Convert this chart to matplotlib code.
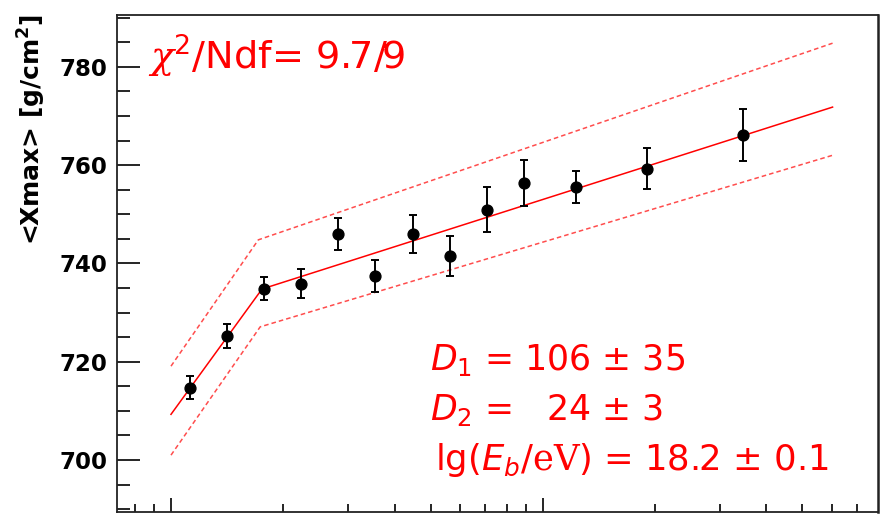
import numpy as np
import matplotlib
matplotlib.use("Agg")
import matplotlib.pyplot as plt
from matplotlib.ticker import MultipleLocator, LogLocator, NullFormatter

# Fonts: wide sans for the labels, serif italic chi through the cal slot
plt.rcParams['font.family'] = 'DejaVu Sans'
plt.rcParams['mathtext.fontset'] = 'custom'
plt.rcParams['mathtext.rm'] = 'DejaVu Sans'
plt.rcParams['mathtext.it'] = 'DejaVu Sans:italic'
plt.rcParams['mathtext.bf'] = 'DejaVu Sans:bold'
plt.rcParams['mathtext.cal'] = 'DejaVu Serif:italic'
plt.rcParams['mathtext.sf'] = 'DejaVu Serif'

# Measured <Xmax> per energy bin (lg(E/eV))
lg_e = [18.05, 18.15, 18.25, 18.35, 18.45, 18.55, 18.65, 18.75, 18.85, 18.95, 19.09, 19.28, 19.54]
xmax = [714.7, 725.2, 734.9, 735.9, 746.0, 737.4, 746.0, 741.5, 750.9, 756.3, 755.6, 759.3, 766.1]
xmax_err = [2.3, 2.4, 2.4, 2.9, 3.2, 3.2, 3.9, 4.0, 4.6, 4.7, 3.3, 4.1, 5.3]

# Broken line fit and its band
fit_lg_e = [18.0, 18.245, 19.78]
fit_mid = [709.3, 734.8, 771.8]
band_lg_e_up = [18.0, 18.235, 19.78]
band_up = [719.1, 744.8, 784.8]
band_lg_e_lo = [18.0, 18.24, 19.78]
band_lo = [701.0, 727.1, 762.0]

energy = 10 ** np.array(lg_e)

fig = plt.figure(figsize=(8.85, 5.19), dpi=100)
ax = fig.add_axes([0.1319, 0.0141, 0.8605, 0.9576])

ax.plot(10 ** np.array(fit_lg_e), fit_mid, color='#ff0000', lw=1.1)
ax.plot(10 ** np.array(band_lg_e_up), band_up, color='#ff2020', lw=1.1,
        dashes=(3, 2), alpha=0.8)
ax.plot(10 ** np.array(band_lg_e_lo), band_lo, color='#ff2020', lw=1.1,
        dashes=(3, 2), alpha=0.8)

ax.errorbar(energy, xmax, yerr=xmax_err, fmt='o', color='black', ms=7.8,
            elinewidth=1.4, capsize=3, capthick=1.4, zorder=5)

ax.set_xscale('log')
ax.set_xlim(10 ** 17.854, 10 ** 19.903)
ax.set_ylim(689.5, 790.6)

ax.xaxis.set_major_locator(LogLocator(base=10))
ax.xaxis.set_minor_locator(LogLocator(base=10, subs=np.arange(2, 10)))
ax.xaxis.set_major_formatter(NullFormatter())
ax.xaxis.set_minor_formatter(NullFormatter())
ax.set_yticks([700, 720, 740, 760, 780])
ax.yaxis.set_minor_locator(MultipleLocator(5))

ax.tick_params(axis='y', which='major', direction='in', length=16.3, width=1.2,
               labelsize=16.5, pad=7)
ax.tick_params(axis='y', which='minor', direction='in', length=9.4, width=1.2)
ax.tick_params(axis='x', which='major', direction='in', length=10, width=1.2)
ax.tick_params(axis='x', which='minor', direction='in', length=5.5, width=1.2)
for lab in ax.get_yticklabels():
    lab.set_fontweight('bold')
for s in ax.spines.values():
    s.set_linewidth(1.3)
    s.set_color('#222222')
ax.spines['right'].set_linewidth(1.8)

ax.set_ylabel(r"<Xmax> [g/cm$^\mathbf{2}$]", fontsize=18, fontweight='bold', loc='top')
ax.yaxis.set_label_coords(-0.09, 1.0)

# Fit results
red = '#ff0000'
ax.text(0.041, 0.889, r"$\mathcal{\chi}^2$/Ndf= 9.7/9", transform=ax.transAxes,
        color=red, fontsize=27.5, va='baseline')
ax.text(0.411, 0.285, r"$D_1$ = 106 $\pm$ 35", transform=ax.transAxes,
        color=red, fontsize=25, va='baseline')
ax.text(0.411, 0.1845, r"$D_2$ =   24 $\pm$ 3", transform=ax.transAxes,
        color=red, fontsize=25, va='baseline')
ax.text(0.418, 0.0839, r"lg($E_b$/$\mathsf{eV}$) = 18.2 $\pm$ 0.1", transform=ax.transAxes,
        color=red, fontsize=25.5, va='baseline')

fig.savefig('out.png', dpi=100)
